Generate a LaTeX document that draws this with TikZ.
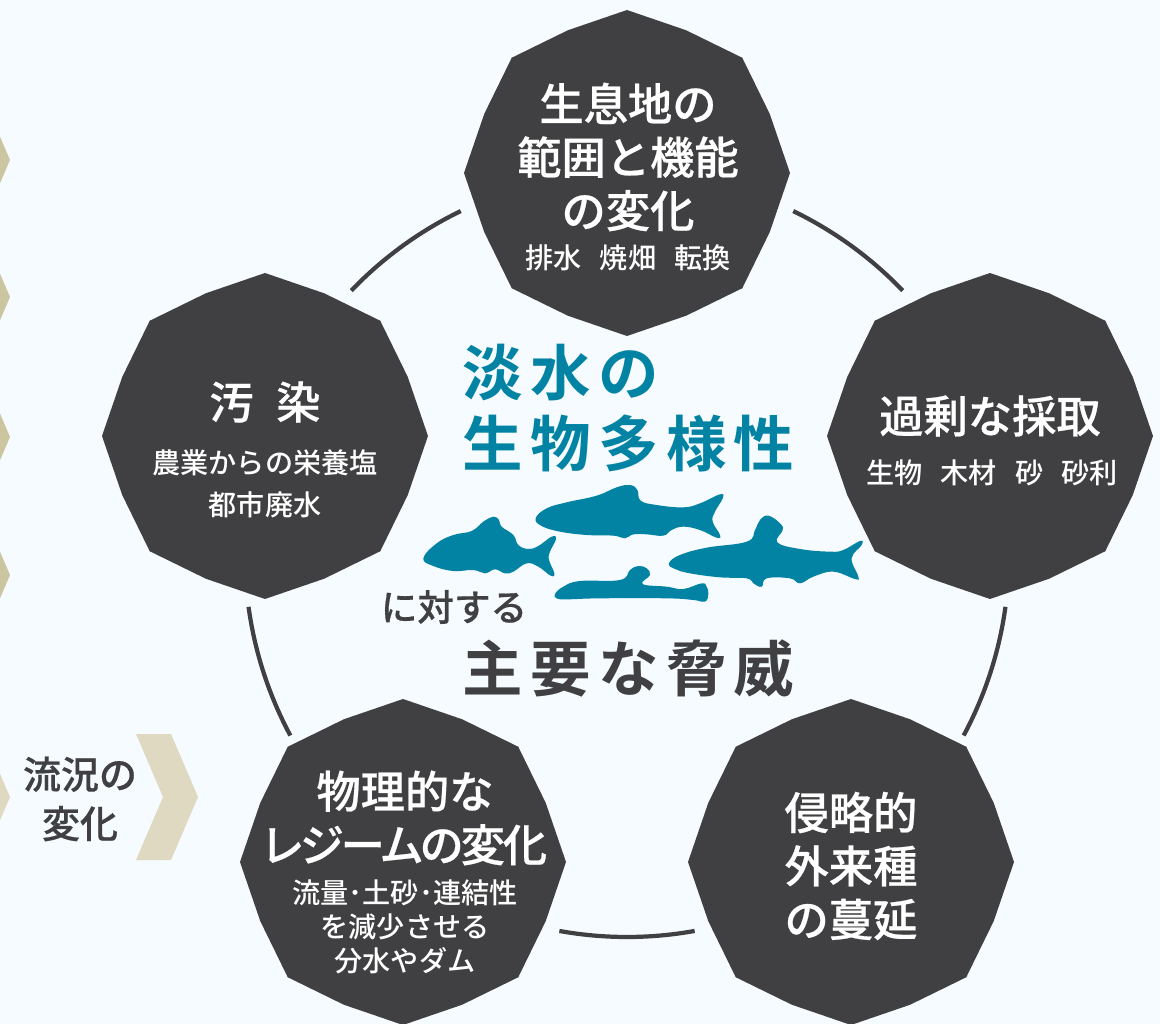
\documentclass[tikz,border=0pt]{standalone}
\usepackage{fontspec}
\usepackage{xcolor}
\setmainfont{Noto Sans CJK JP Medium}
\newfontfamily\cjktitle{Noto Sans CJK JP Medium}[FakeBold=0.5]
\newfontfamily\cjkwide{Noto Sans CJK JP Bold}[LetterSpace=12]
\definecolor{cellgray}{HTML}{404042}
\definecolor{fishteal}{HTML}{0283A3}
\definecolor{paleground}{HTML}{F5FBFF}
\definecolor{sandA}{HTML}{DFD9C1}
\definecolor{sandB}{HTML}{CCC6A0}
\newcommand{\wordgap}{\hspace{13pt}}
\tikzset{
  % px-sized type: 1 unit = 0.025cm = 0.711pt
  celltitle/.style={text=white,align=center,font=\cjktitle\fontsize{31.5}{38}\selectfont},
  cellsub/.style={text=white,align=center,font=\fontsize{20}{24}\selectfont},
  centertitle/.style={align=left,font=\cjkwide\fontsize{43}{50}\selectfont},
  sidelabel/.style={text=cellgray,align=center,font=\cjktitle\fontsize{27}{35}\selectfont},
  ringarc/.style={cellgray,line width=3pt},
  threatcell/.pic={
    \fill[cellgray] (90:163) -- (67.5:154.5) -- (45:163) -- (22.5:154.5) -- (0:163)
      -- (-22.5:154.5) -- (-45:163) -- (-67.5:154.5) -- (-90:163) -- (-112.5:154.5)
      -- (-135:163) -- (-157.5:154.5) -- (180:163) -- (157.5:154.5) -- (135:163)
      -- (112.5:154.5) -- cycle;
  },
}

\begin{document}
\begin{tikzpicture}[x=0.025cm,y=-0.025cm]
  \clip (0,0) rectangle (1160,1024);
  \fill[paleground] (0,0) rectangle (1160,1024);

  % Chevrons down the left edge
  \foreach \y in {160,297,437,575} {
    \fill[sandB] (-25,\y) -- (-52,\y-63) -- (-17,\y-63) -- (10,\y) -- (-17,\y+63) -- (-52,\y+63) -- cycle;
  }
  \foreach \x in {10,198} {
    \fill[sandA] (\x-35,797) -- (\x-62,734) -- (\x-27,734) -- (\x,797) -- (\x-27,860) -- (\x-62,860) -- cycle;
  }

  % Ring behind the five cells
  \coordinate (hub) at (627,555);
  \foreach \a in {-54,18,90,162,234} {
    \draw[ringarc] (hub) ++(\a-10.2:382) arc[start angle=\a-10.2,end angle=\a+10.2,radius=382];
  }

  % Five threat cells
  \pic at (627,173) {threatcell};
  \pic at (990,436) {threatcell};
  \pic at (265,436) {threatcell};
  \pic at (403,862) {threatcell};
  \pic at (851,862) {threatcell};

  \node[celltitle] (habitat) at (628,157) {生息地の\\範囲と機能\\の変化};
  \node[cellsub] (habitatsub) at (628,258) {排水\wordgap 焼畑\wordgap 転換};
  \node[celltitle] (overuse) at (990,416) {過剰な採取};
  \node[cellsub] (overusesub) at (992,473) {生物\wordgap 木材\wordgap 砂\wordgap 砂利};
  \node[celltitle] (pollution) at (265,402) {汚\hspace{16pt}染};
  \node[cellsub] (pollutionsub) at (265,484) {農業からの栄養塩\\[6pt]都市廃水};
  \node[celltitle] (regime) at (405,818) {物理的な\\\addfontfeature{RawFeature=+palt,LetterSpace=-5}レジームの変化};
  \node[cellsub] (regimesub) at (405,927) {流量･土砂･連結性\\を減少させる\\分水やダム};
  \node[celltitle] (invasive) at (851,866) {侵略的\\外来種\\の蔓延};

  % Centre heading
  \node[centertitle,text=fishteal,anchor=west] (fresh) at (458,408) {淡水の\\生物多様性};
  \node[text=cellgray,font=\cjktitle\fontsize{26}{30}\selectfont] (against) at (454,607) {に対する};
  \node[centertitle,text=cellgray,anchor=west] (threats) at (458,668) {主要な脅威};
  \node[sidelabel] (flow) at (80,799) {流況の\\変化};

  % Fish outlines
  \begin{scope}[shift={(400,470)},x=0.00833cm,y=-0.00833cm]
    \fill[fishteal] plot[smooth cycle,tension=0.7] coordinates {(70,265) (110,220) (160,195) (215,183) (250,155) (280,140) (297,150) (305,170) (340,195) (355,225) (385,237) (415,228) (455,200) (468,207) (450,245) (447,270) (463,310) (452,317) (415,290) (380,280) (340,305) (315,310) (285,298) (255,310) (220,300) (160,303) (100,288)};
    \fill[fishteal] plot[smooth cycle,tension=0.7] coordinates {(407,145) (440,115) (500,97) (590,77) (650,52) (690,45) (712,60) (722,92) (770,105) (850,112) (900,100) (960,73) (968,85) (945,125) (938,155) (960,195) (950,203) (900,180) (850,170) (815,180) (790,197) (740,193) (700,193) (675,205) (640,197) (560,195) (480,185) (425,168)};
    \fill[fishteal] plot[smooth cycle,tension=0.7] coordinates {(807,280) (840,255) (920,233) (1040,215) (1065,180) (1080,150) (1105,137) (1140,160) (1148,180) (1132,217) (1200,237) (1290,245) (1330,240) (1380,213) (1385,225) (1355,265) (1375,320) (1365,327) (1300,305) (1240,320) (1200,340) (1170,325) (1100,325) (1085,350) (1060,340) (1040,325) (960,322) (870,310) (825,297)};
    \fill[fishteal] plot[smooth cycle,tension=0.7] coordinates {(465,372) (490,350) (540,333) (660,330) (690,300) (715,288) (740,295) (750,315) (728,342) (800,350) (850,357) (905,340) (920,350) (925,372) (915,395) (880,390) (800,385) (600,385) (500,388) (470,385)};
  \end{scope}
\end{tikzpicture}
\end{document}
